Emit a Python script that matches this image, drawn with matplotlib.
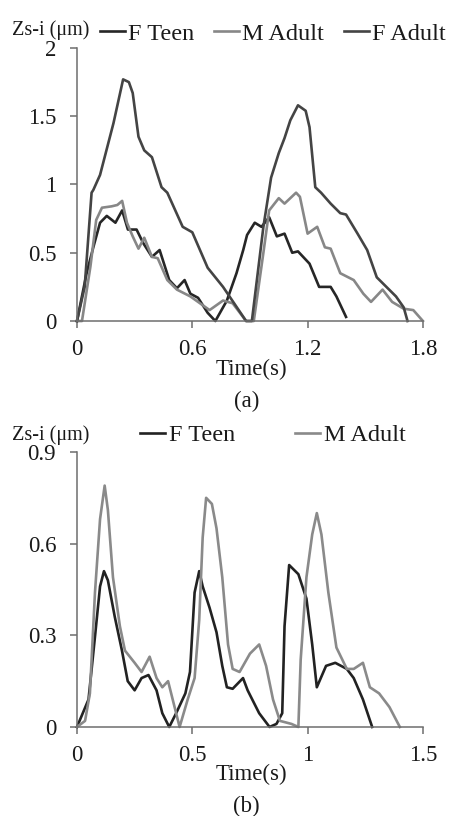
import matplotlib
matplotlib.use("Agg")
import matplotlib.pyplot as plt

plt.rcParams['font.family'] = ['Liberation Serif', 'DejaVu Serif']

# panel (a) data
a_teen_t = [0.0, 0.05, 0.085, 0.12, 0.155, 0.20, 0.235, 0.265, 0.31, 0.345, 0.39, 0.43, 0.48, 0.52,
            0.56, 0.59, 0.63, 0.68, 0.72, 0.78, 0.83, 0.865, 0.885, 0.925, 0.96, 1.0, 1.04, 1.08,
            1.12, 1.15, 1.21, 1.26, 1.32, 1.35, 1.40]
a_teen_v = [0.0, 0.35, 0.54, 0.72, 0.77, 0.72, 0.81, 0.67, 0.67, 0.57, 0.47, 0.52, 0.30, 0.24,
            0.30, 0.20, 0.17, 0.06, 0.0, 0.15, 0.35, 0.52, 0.63, 0.72, 0.69, 0.76, 0.62, 0.64,
            0.50, 0.51, 0.42, 0.25, 0.25, 0.18, 0.03]

a_madult_t = [0.0, 0.026, 0.07, 0.10, 0.13, 0.18, 0.21, 0.235, 0.26, 0.29, 0.32, 0.35, 0.39, 0.42,
              0.47, 0.52, 0.59, 0.64, 0.69, 0.76, 0.81, 0.88, 0.92, 0.97, 1.0, 1.05, 1.08, 1.14,
              1.16, 1.20, 1.25, 1.29, 1.32, 1.37, 1.44, 1.49, 1.53, 1.59, 1.64, 1.70, 1.75, 1.80]
a_madult_v = [0.0, 0.0, 0.40, 0.74, 0.83, 0.84, 0.85, 0.88, 0.72, 0.62, 0.53, 0.61, 0.47, 0.46,
              0.30, 0.23, 0.18, 0.13, 0.08, 0.15, 0.13, 0.0, 0.0, 0.50, 0.81, 0.90, 0.86, 0.94,
              0.91, 0.64, 0.69, 0.54, 0.53, 0.35, 0.30, 0.20, 0.14, 0.23, 0.14, 0.09, 0.08, 0.0]

a_fadult_t = [0.0, 0.04, 0.076, 0.085, 0.12, 0.19, 0.24, 0.27, 0.29, 0.32, 0.35, 0.39, 0.44, 0.47,
              0.55, 0.60, 0.68, 0.76, 0.88, 0.91, 0.97, 1.01, 1.05, 1.08, 1.11, 1.15, 1.19, 1.21,
              1.24, 1.27, 1.32, 1.37, 1.40, 1.46, 1.51, 1.56, 1.61, 1.66, 1.70, 1.72]
a_fadult_v = [0.0, 0.25, 0.94, 0.96, 1.07, 1.45, 1.77, 1.75, 1.67, 1.35, 1.25, 1.20, 0.98, 0.94,
              0.69, 0.65, 0.39, 0.25, 0.0, 0.0, 0.69, 1.05, 1.23, 1.34, 1.47, 1.58, 1.54, 1.42,
              0.98, 0.94, 0.86, 0.79, 0.78, 0.64, 0.52, 0.32, 0.25, 0.18, 0.10, 0.0]

# panel (b) data
b_teen_t = [0.0, 0.05, 0.08, 0.10, 0.117, 0.134, 0.164, 0.195, 0.22, 0.25, 0.28, 0.31, 0.345, 0.37,
            0.40, 0.43, 0.47, 0.49, 0.51, 0.53, 0.545, 0.575, 0.605, 0.63, 0.65, 0.675, 0.72,
            0.74, 0.79, 0.835, 0.865, 0.89, 0.90, 0.92, 0.96, 0.995, 1.02, 1.04, 1.08, 1.12,
            1.17, 1.20, 1.24, 1.28]
b_teen_v = [0.0, 0.09, 0.31, 0.46, 0.51, 0.48, 0.36, 0.25, 0.15, 0.12, 0.16, 0.17, 0.12, 0.045,
            0.0, 0.045, 0.11, 0.18, 0.44, 0.51, 0.46, 0.39, 0.31, 0.20, 0.13, 0.125, 0.16,
            0.12, 0.045, 0.0, 0.01, 0.045, 0.33, 0.53, 0.50, 0.42, 0.27, 0.13, 0.20, 0.21,
            0.19, 0.16, 0.09, 0.0]

b_madult_t = [0.0, 0.035, 0.056, 0.078, 0.10, 0.12, 0.134, 0.156, 0.186, 0.208, 0.25, 0.28, 0.315,
              0.345, 0.37, 0.395, 0.415, 0.445, 0.48, 0.51, 0.53, 0.545, 0.56, 0.585, 0.605,
              0.63, 0.655, 0.675, 0.705, 0.75, 0.79, 0.82, 0.85, 0.88, 0.93, 0.96, 0.97, 0.995,
              1.02, 1.04, 1.06, 1.09, 1.125, 1.17, 1.20, 1.24, 1.27, 1.31, 1.355, 1.40]
b_madult_v = [0.0, 0.02, 0.11, 0.44, 0.68, 0.79, 0.71, 0.49, 0.33, 0.25, 0.21, 0.18, 0.23,
              0.16, 0.13, 0.15, 0.09, 0.0, 0.09, 0.16, 0.35, 0.62, 0.75, 0.73, 0.65,
              0.49, 0.27, 0.19, 0.18, 0.24, 0.27, 0.20, 0.09, 0.02, 0.01, 0.0, 0.22, 0.49,
              0.63, 0.70, 0.63, 0.44, 0.26, 0.19, 0.19, 0.21, 0.13, 0.11, 0.065, 0.0]

a_xticks = [0, 0.6, 1.2, 1.8]
a_xlabels = ['0', '0.6', '1.2', '1.8']
a_yticks = [0, 0.5, 1, 1.5, 2]
a_ylabels = ['0', '0.5', '1', '1.5', '2']
b_xticks = [0, 0.5, 1, 1.5]
b_xlabels = ['0', '0.5', '1', '1.5']
b_yticks = [0, 0.3, 0.6, 0.9]
b_ylabels = ['0', '0.3', '0.6', '0.9']

fs = 16.5
lfs = 17.5
axis_col = '#6e6e6e'
txt_col = '#1a1a1a'
lw = 1.9

fig = plt.figure(figsize=(4.51, 8.16), dpi=100)
ax1 = fig.add_axes([0.1707, 0.6066, 0.767, 0.3346])
ax2 = fig.add_axes([0.1707, 0.1091, 0.767, 0.337])


def style(ax, xt, xl, yt, yl, xmax, ymax, label_y):
    ax.set_xlim(0, xmax)
    ax.set_ylim(0, ymax)
    ax.set_xticks(xt)
    ax.set_xticklabels(xl)
    ax.set_yticks(yt)
    ax.set_yticklabels(yl)
    for s in ['top', 'right']:
        ax.spines[s].set_visible(False)
    for s in ['left', 'bottom']:
        ax.spines[s].set_color(axis_col)
        ax.spines[s].set_linewidth(1.1)
    ax.tick_params(axis='both', direction='out', length=5, width=1.1, color=axis_col,
                   labelsize=fs, labelcolor=txt_col)
    ax.tick_params(axis='x', pad=8)
    ax.tick_params(axis='y', pad=10)
    ax.set_xlabel('Time(s)', fontsize=fs, color=txt_col, va='center')
    ax.xaxis.set_label_coords(0.503, label_y)
    ax.patch.set_alpha(0)


ax1.plot(a_teen_t, a_teen_v, color='#262626', lw=lw, solid_joinstyle='round', label='F Teen', clip_on=False)
ax1.plot(a_madult_t, a_madult_v, color='#878787', lw=lw, solid_joinstyle='round', label='M Adult', clip_on=False)
ax1.plot(a_fadult_t, a_fadult_v, color='#444444', lw=lw, solid_joinstyle='round', label='F Adult', clip_on=False)
style(ax1, a_xticks, a_xlabels, a_yticks, a_ylabels, 1.8, 2, -0.176)

ax2.plot(b_teen_t, b_teen_v, color='#222222', lw=lw, solid_joinstyle='round', label='F Teen', clip_on=False)
ax2.plot(b_madult_t, b_madult_v, color='#8a8a8a', lw=lw, solid_joinstyle='round', label='M Adult', clip_on=False)
style(ax2, b_xticks, b_xlabels, b_yticks, b_ylabels, 1.5, 0.9, -0.171)

leg1 = ax1.legend(loc='lower left', bbox_to_anchor=(0.066, 1.012), ncol=3, frameon=False,
                  fontsize=lfs, handlelength=1.03, handletextpad=0.12, columnspacing=0.82,
                  borderaxespad=0.0, borderpad=0.0)
leg2 = ax2.legend(loc='lower left', bbox_to_anchor=(0.182, 1.02), ncol=2, frameon=False,
                  fontsize=lfs, handlelength=1.03, handletextpad=0.15, columnspacing=2.47,
                  borderaxespad=0.0, borderpad=0.0)
for leg in (leg1, leg2):
    for t in leg.get_texts():
        t.set_color(txt_col)

fig.text(0.027, 0.963, 'Zs-i (μm)', fontsize=14.5, va='center', ha='left', color=txt_col)
fig.text(0.027, 0.467, 'Zs-i (μm)', fontsize=14.5, va='center', ha='left', color=txt_col)
fig.text(0.546, 0.5086, '(a)', fontsize=fs, va='center', ha='center', color=txt_col)
fig.text(0.546, 0.012, '(b)', fontsize=fs, va='center', ha='center', color=txt_col)

fig.savefig('out.png', dpi=100)
